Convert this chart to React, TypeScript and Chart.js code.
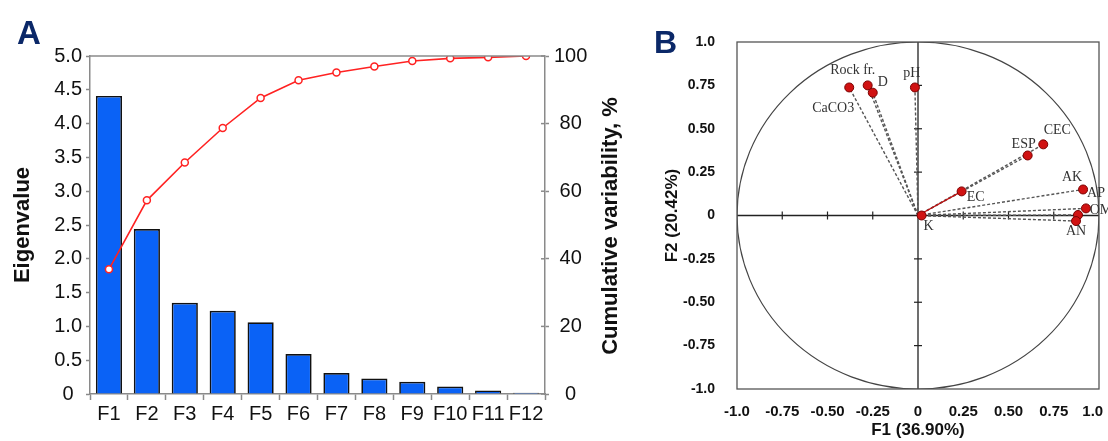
import React, { useEffect, useRef } from 'react';
import { Chart, registerables } from 'chart.js';
Chart.register(...registerables);

// ---------- Panel A data ----------
const factors = ['F1', 'F2', 'F3', 'F4', 'F5', 'F6', 'F7', 'F8', 'F9', 'F10', 'F11', 'F12'];
const eigenvalues = [4.41, 2.44, 1.35, 1.23, 1.06, 0.59, 0.31, 0.23, 0.18, 0.11, 0.05, 0.02];
const cumulative = [36.9, 57.3, 68.5, 78.7, 87.6, 92.8, 95.1, 96.9, 98.5, 99.3, 99.6, 100];
const rightAxisTitle = 'Cumulative variability, %';

// ---------- Panel B data ----------
const variables = ['CaCO3', 'Rock fr.', 'D', 'pH', 'ESP', 'CEC', 'EC', 'AK', 'AP', 'OM', 'AN', 'K'];
const f1Loadings = [-0.38, -0.278, -0.25, -0.017, 0.606, 0.692, 0.241, 0.912, 0.928, 0.884, 0.873, 0.02];
const f2Loadings = [0.738, 0.75, 0.708, 0.738, 0.346, 0.41, 0.139, 0.15, 0.041, 0.003, -0.032, 0.0];
// label offsets in pixels (layout only)
const labelDx = [-16, -15, 10, -3, -4, 14, 14, -11, 10, 23, 0, 7];
const labelDy = [21, -15, -10, -14, -11, -14, 6, -12, -15, -5, 10, 11];

const SANS = '"Liberation Sans", Arial, Helvetica, sans-serif';
const SERIF = '"Liberation Serif", "Times New Roman", serif';
const NAVY = '#0b2868';
const AXIS_GRAY = '#8a8a8a';

export default function App() {
  const refA = useRef<HTMLCanvasElement>(null);
  const refB = useRef<HTMLCanvasElement>(null);

  useEffect(() => {
    const panelAPlugin = {
      id: 'panelA',
      afterDraw(chart: any) {
        const { ctx, chartArea } = chart;
        ctx.save();
        ctx.strokeStyle = AXIS_GRAY;
        ctx.lineWidth = 1.5;
        ctx.beginPath();
        ctx.moveTo(chartArea.left, chartArea.top);
        ctx.lineTo(chartArea.right, chartArea.top);
        ctx.stroke();
        // inner part of right-axis ticks
        const y1 = chart.scales.y1;
        y1.ticks.forEach((t: any) => {
          const py = y1.getPixelForValue(t.value);
          ctx.beginPath();
          ctx.moveTo(chartArea.right - 4, py);
          ctx.lineTo(chartArea.right, py);
          ctx.stroke();
        });
        // right axis title, reading bottom to top
        ctx.save();
        ctx.translate(611, (chartArea.top + chartArea.bottom) / 2 + 1);
        ctx.rotate(-Math.PI / 2);
        ctx.fillStyle = '#111';
        ctx.font = `bold 22px ${SANS}`;
        ctx.textAlign = 'center';
        ctx.textBaseline = 'middle';
        ctx.fillText(rightAxisTitle, 0, 0);
        ctx.restore();
        ctx.fillStyle = NAVY;
        ctx.font = `bold 33px ${SANS}`;
        ctx.textBaseline = 'alphabetic';
        ctx.textAlign = 'left';
        ctx.fillText('A', 17, 44);
        ctx.restore();
      },
    };

    const chartA = new Chart(refA.current!, {
      type: 'bar',
      data: {
        labels: factors,
        datasets: [
          {
            type: 'line',
            label: 'Cumulative variability',
            data: cumulative,
            yAxisID: 'y1',
            borderColor: '#ff2222',
            borderWidth: 1.6,
            pointRadius: 3.5,
            pointBorderWidth: 1.5,
            pointBackgroundColor: '#ffffff',
            pointBorderColor: '#ff2222',
            tension: 0,
            order: 0,
          } as any,
          {
            type: 'bar',
            label: 'Eigenvalue',
            data: eigenvalues,
            yAxisID: 'y',
            backgroundColor: '#0a62f6',
            borderColor: '#111111',
            borderWidth: 1.7,
            barPercentage: 0.69,
            categoryPercentage: 1,
            order: 1,
          },
        ],
      },
      options: {
        responsive: false,
        animation: false,
        layout: { padding: { top: 56, left: 0, right: 0, bottom: 0 } },
        plugins: { legend: { display: false }, tooltip: { enabled: false } },
        scales: {
          x: {
            grid: { drawOnChartArea: false, color: AXIS_GRAY, tickLength: 6, tickWidth: 1.5 },
            border: { color: AXIS_GRAY, width: 1.5 },
            ticks: { color: '#111', font: { family: SANS, size: 20 }, padding: 2, maxRotation: 0, autoSkip: false },
            afterFit: (s: any) => { s.height = 47; },
          },
          y: {
            position: 'left',
            min: 0,
            max: 5,
            grid: { drawOnChartArea: false, color: AXIS_GRAY, tickLength: 4, tickWidth: 1.5 },
            border: { color: AXIS_GRAY, width: 1.5 },
            ticks: {
              stepSize: 0.5,
              color: '#111',
              font: { family: SANS, size: 20 },
              padding: 4,
              crossAlign: 'center',
              callback: (v: any) => (Number(v) === 0 ? '0' : Number(v).toFixed(1)),
            },
            title: {
              display: true,
              text: 'Eigenvalue',
              color: '#111',
              font: { family: SANS, size: 22, weight: 'bold' },
              padding: { top: 10, bottom: 0 },
            },
            afterFit: (s: any) => { s.width = 90; },
          },
          y1: {
            position: 'right',
            min: 0,
            max: 100,
            grid: { drawOnChartArea: false, color: AXIS_GRAY, tickLength: 4, tickWidth: 1.5 },
            border: { color: AXIS_GRAY, width: 1.5 },
            ticks: {
              stepSize: 20,
              color: '#111',
              font: { family: SANS, size: 20 },
              padding: 5,
              crossAlign: 'center',
            },
            title: { display: false },
            afterFit: (s: any) => { s.width = 95; },
          },
        },
      } as any,
      plugins: [panelAPlugin],
    });

    const panelBPlugin = {
      id: 'panelB',
      beforeDatasetsDraw(chart: any) {
        const { ctx, chartArea, scales } = chart;
        const xs = scales.x;
        const ys = scales.y;
        const x0 = xs.getPixelForValue(0);
        const y0 = ys.getPixelForValue(0);
        ctx.save();
        ctx.beginPath();
        ctx.rect(chartArea.left, chartArea.top, chartArea.right - chartArea.left, chartArea.bottom - chartArea.top);
        ctx.clip();
        // correlation circle
        const rx = xs.getPixelForValue(1) - x0;
        const ry = y0 - ys.getPixelForValue(1);
        ctx.strokeStyle = '#444';
        ctx.lineWidth = 1.2;
        ctx.beginPath();
        ctx.ellipse(x0, y0, rx, ry, 0, 0, Math.PI * 2);
        ctx.stroke();
        // axes through origin
        ctx.strokeStyle = '#222';
        ctx.lineWidth = 1.3;
        ctx.beginPath();
        ctx.moveTo(chartArea.left, y0);
        ctx.lineTo(chartArea.right, y0);
        ctx.moveTo(x0, chartArea.top);
        ctx.lineTo(x0, chartArea.bottom);
        ctx.stroke();
        ctx.lineWidth = 1.2;
        xs.ticks.forEach((t: any) => {
          if (t.value === 0 || Math.abs(t.value) === 1) return;
          const px = xs.getPixelForValue(t.value);
          ctx.beginPath();
          ctx.moveTo(px, y0 - 4);
          ctx.lineTo(px, y0 + 4);
          ctx.stroke();
        });
        ys.ticks.forEach((t: any) => {
          if (t.value === 0 || Math.abs(t.value) === 1) return;
          const py = ys.getPixelForValue(t.value);
          ctx.beginPath();
          ctx.moveTo(x0 - 4, py);
          ctx.lineTo(x0 + 4, py);
          ctx.stroke();
        });
        // vectors
        variables.forEach((name, i) => {
          if (name === 'K') return;
          const px = xs.getPixelForValue(f1Loadings[i]);
          const py = ys.getPixelForValue(f2Loadings[i]);
          ctx.beginPath();
          if (name === 'EC') {
            ctx.setLineDash([]);
            ctx.strokeStyle = '#c01010';
            ctx.lineWidth = 1.3;
          } else {
            ctx.setLineDash([3, 2]);
            ctx.strokeStyle = '#555';
            ctx.lineWidth = 1.4;
          }
          ctx.moveTo(x0, y0);
          ctx.lineTo(px, py);
          ctx.stroke();
        });
        ctx.restore();
      },
      afterDraw(chart: any) {
        const { ctx, chartArea, scales } = chart;
        ctx.save();
        ctx.strokeStyle = '#555';
        ctx.lineWidth = 1.3;
        ctx.strokeRect(chartArea.left, chartArea.top, chartArea.right - chartArea.left, chartArea.bottom - chartArea.top);
        ctx.fillStyle = '#333';
        ctx.font = `14px ${SERIF}`;
        ctx.textAlign = 'center';
        ctx.textBaseline = 'middle';
        variables.forEach((name, i) => {
          const px = scales.x.getPixelForValue(f1Loadings[i]);
          const py = scales.y.getPixelForValue(f2Loadings[i]);
          ctx.fillText(name, px + labelDx[i], py + labelDy[i]);
        });
        ctx.fillStyle = NAVY;
        ctx.font = `bold 32px ${SANS}`;
        ctx.textAlign = 'left';
        ctx.textBaseline = 'alphabetic';
        ctx.fillText('B', 14, 53);
        ctx.restore();
      },
    };

    const fmtB = (v: any) => {
      const n = Number(v);
      if (n === 0) return '0';
      if (n === 1) return '1.0   ';
      if (n === -1) return '-1.0';
      return n.toFixed(2);
    };

    const chartB = new Chart(refB.current!, {
      type: 'scatter',
      data: {
        datasets: [
          {
            label: 'Variables',
            data: variables.map((_, i) => ({ x: f1Loadings[i], y: f2Loadings[i] })),
            pointRadius: 4.5,
            pointBackgroundColor: '#d01212',
            pointBorderColor: '#7a0000',
            pointBorderWidth: 1,
          },
        ],
      },
      options: {
        responsive: false,
        animation: false,
        layout: { padding: { top: 42, right: 9, left: 0, bottom: 0 } },
        plugins: { legend: { display: false }, tooltip: { enabled: false } },
        scales: {
          x: {
            type: 'linear',
            min: -1,
            max: 1,
            grid: { display: false },
            border: { display: false },
            ticks: {
              stepSize: 0.25,
              color: '#111',
              font: { family: SANS, size: 15, weight: 'bold' },
              padding: 6,
              maxRotation: 0,
              autoSkip: false,
              callback: fmtB,
            },
            title: {
              display: true,
              text: 'F1 (36.90%)',
              color: '#111',
              font: { family: SANS, size: 17, weight: 'bold' },
              padding: { top: 0, bottom: 0 },
            },
            afterFit: (s: any) => { s.height = 52; s.paddingLeft = 0; s.paddingRight = 0; },
          },
          y: {
            type: 'linear',
            min: -1,
            max: 1,
            grid: { display: false },
            border: { display: false },
            ticks: {
              stepSize: 0.25,
              color: '#111',
              font: { family: SANS, size: 14, weight: 'bold' },
              padding: 14,
              autoSkip: false,
              callback: (v: any) => {
                const n = Number(v);
                if (n === 0) return '0';
                if (Math.abs(n) === 1) return n.toFixed(1);
                return n.toFixed(2);
              },
            },
            title: {
              display: true,
              text: 'F2 (20.42%)',
              color: '#111',
              font: { family: SANS, size: 17, weight: 'bold' },
              padding: { top: 22, bottom: 0 },
            },
            afterFit: (s: any) => { s.width = 97; s.paddingTop = 0; s.paddingBottom = 0; },
          },
        },
      } as any,
      plugins: [panelBPlugin],
    });

    return () => {
      chartA.destroy();
      chartB.destroy();
    };
  }, []);

  return (
    <div style={{ position: 'fixed', left: 0, top: 0, width: 1108, height: 441, background: '#ffffff', overflow: 'hidden' }}>
      <canvas ref={refA} width={640} height={441} style={{ position: 'absolute', left: 0, top: 0, width: 640, height: 441 }} />
      <canvas ref={refB} width={468} height={441} style={{ position: 'absolute', left: 640, top: 0, width: 468, height: 441 }} />
    </div>
  );
}
